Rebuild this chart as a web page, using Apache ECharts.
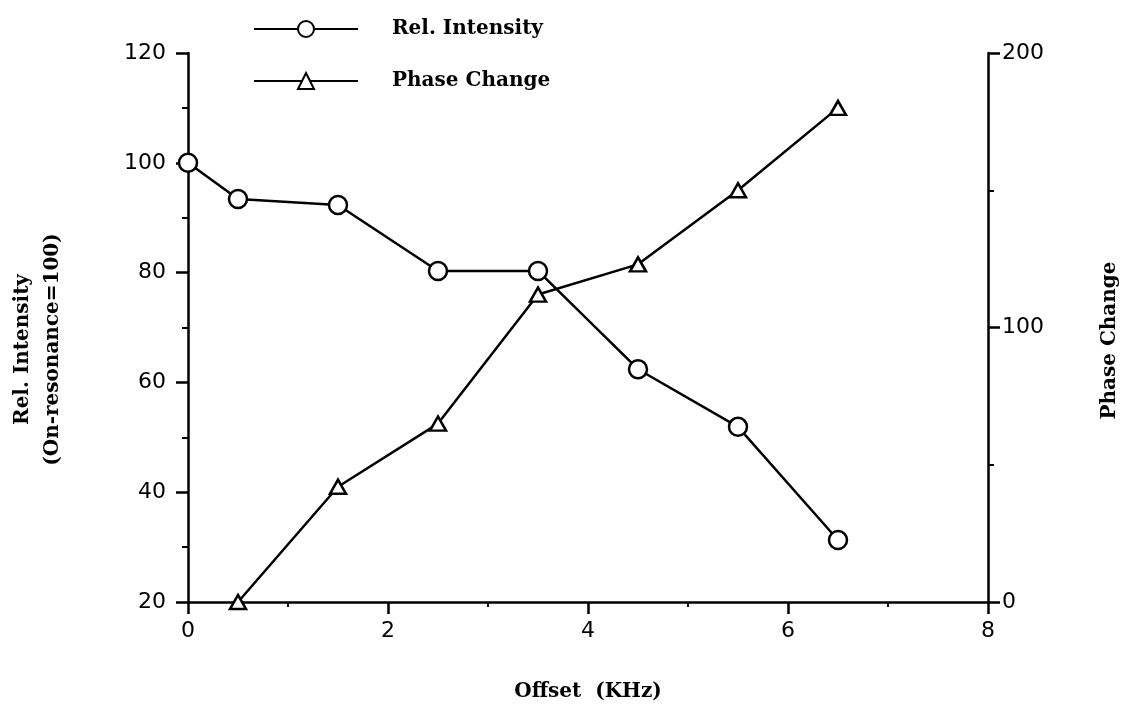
<!DOCTYPE html>
<html>
<head>
<meta charset="utf-8">
<title>Rel. Intensity and Phase Change vs Offset</title>
<script src="https://cdn.jsdelivr.net/npm/echarts@6/dist/echarts.min.js"></script>
<style>
  html, body { margin: 0; padding: 0; background: #fff; }
  #chart { width: 1124px; height: 708px; }
</style>
</head>
<body>
<div id="chart"></div>
<script>
// Offset from resonance (kHz) at which each quantity was measured
const intensityOffsets = [0, 0.5, 1.5, 2.5, 3.5, 4.5, 5.5, 6.5];
const intensityValues  = [100, 93.4, 92.3, 80.3, 80.3, 62.4, 51.9, 31.3];

const phaseOffsets = [0.5, 1.5, 2.5, 3.5, 4.5, 5.5, 6.5];
const phaseValues  = [0, 42, 65, 112, 123, 150, 180];

const seriesNames = ['Rel. Intensity', 'Phase Change'];
const xAxisTitle = 'Offset  (KHz)';
const leftAxisTitle = 'Rel. Intensity\n(On-resonance=100)';
const rightAxisTitle = 'Phase Change';

const ink = '#000';
const titleFont = { fontFamily: 'DejaVu Serif', fontWeight: 'bold', fontSize: 20, color: ink };
const tickFont = { fontFamily: 'DejaVu Sans', fontSize: 22, color: ink };

const pairs = (xs, ys) => xs.map((x, i) => [x, ys[i]]);

const chart = echarts.init(document.getElementById('chart'), null, { renderer: 'canvas' });

chart.setOption({
  backgroundColor: '#fff',
  animation: false,
  grid: { left: 188, right: 136, top: 53, bottom: 106, outerBoundsMode: 'none', containLabel: false },
  legend: {
    orient: 'vertical',
    left: 248,
    top: 14,
    itemWidth: 104,
    itemHeight: 20,
    itemGap: 32,
    selectedMode: false,
    data: seriesNames,
    textStyle: Object.assign({}, titleFont, { padding: [0, 0, 0, 29] })
  },
  xAxis: {
    type: 'value',
    min: 0, max: 8, interval: 2,
    name: xAxisTitle,
    nameLocation: 'middle',
    nameGap: 80,
    nameTextStyle: titleFont,
    axisLine: { onZero: false, lineStyle: { color: ink, width: 2.5 } },
    axisTick: { length: 12, lineStyle: { color: ink, width: 2.5 } },
    minorTick: { show: true, splitNumber: 2, length: 5, lineStyle: { color: ink, width: 2 } },
    axisLabel: Object.assign({ margin: 18 }, tickFont),
    splitLine: { show: false }
  },
  yAxis: [
    {
      type: 'value', position: 'left',
      min: 20, max: 120, interval: 20,
      name: leftAxisTitle,
      nameLocation: 'middle',
      nameGap: 120,
      nameTextStyle: Object.assign({}, titleFont, { lineHeight: 30, padding: [0, 44, 0, 0] }),
      axisLine: { show: true, onZero: false, lineStyle: { color: ink, width: 2.5 } },
      axisTick: { length: 12, lineStyle: { color: ink, width: 2.5 } },
      minorTick: { show: true, splitNumber: 2, length: 6, lineStyle: { color: ink, width: 2 } },
      axisLabel: Object.assign({ margin: 22 }, tickFont),
      splitLine: { show: false }
    },
    {
      type: 'value', position: 'right',
      min: 0, max: 200, interval: 100,
      name: rightAxisTitle,
      nameLocation: 'middle',
      nameGap: 112,
      nameTextStyle: Object.assign({}, titleFont, { padding: [0, 26, 0, 0] }),
      axisLine: { show: true, onZero: false, lineStyle: { color: ink, width: 2.5 } },
      axisTick: { length: 12, lineStyle: { color: ink, width: 2.5 } },
      minorTick: { show: true, splitNumber: 2, length: 6, lineStyle: { color: ink, width: 2 } },
      axisLabel: Object.assign({ margin: 14 }, tickFont),
      splitLine: { show: false }
    }
  ],
  series: [
    {
      name: seriesNames[0],
      type: 'line',
      yAxisIndex: 0,
      data: pairs(intensityOffsets, intensityValues),
      clip: false,
      symbol: 'circle',
      symbolSize: 18,
      lineStyle: { color: ink, width: 2.5 },
      itemStyle: { color: '#fff', borderColor: ink, borderWidth: 2.5 }
    },
    {
      name: seriesNames[1],
      type: 'line',
      yAxisIndex: 1,
      data: pairs(phaseOffsets, phaseValues),
      clip: false,
      symbol: 'triangle',
      symbolSize: [16, 14],
      lineStyle: { color: ink, width: 2.5 },
      itemStyle: { color: '#fff', borderColor: ink, borderWidth: 2.5 }
    }
  ]
});
</script>
</body>
</html>
